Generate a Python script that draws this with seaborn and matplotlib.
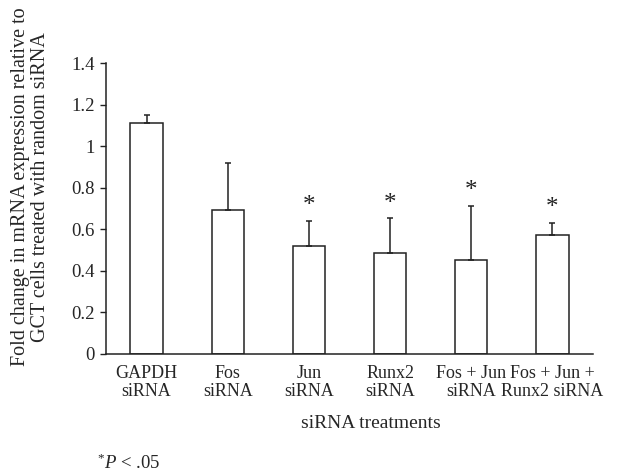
import matplotlib
matplotlib.use("Agg")
import matplotlib.pyplot as plt
import seaborn as sns
import pandas as pd
import numpy as np

categories = ["GAPDH\nsiRNA", "Fos\nsiRNA", "Jun\nsiRNA", "Runx2\nsiRNA",
              "Fos + Jun\nsiRNA", "Fos + Jun +\nRunx2 siRNA"]
values = [1.11, 0.695, 0.52, 0.487, 0.454, 0.571]
errors = [0.042, 0.225, 0.12, 0.167, 0.259, 0.06]
significant = [False, False, True, True, True, True]
yticks = [0, 0.2, 0.4, 0.6, 0.8, 1, 1.2, 1.4]
ytick_labels = ["0", "0.2", "0.4", "0.6", "0.8", "1", "1.2", "1.4"]

sns.set_style("white")
plt.rcParams["font.family"] = ["Liberation Serif", "DejaVu Serif"]
plt.rcParams["mathtext.fontset"] = "custom"
plt.rcParams["mathtext.it"] = "Liberation Serif:italic"
plt.rcParams["mathtext.rm"] = "Liberation Serif"

FS = 13
df = pd.DataFrame({"cat": categories, "val": values})

fig = plt.figure(figsize=(6.3, 4.75), dpi=100)
ax = fig.add_axes([106/630, 1 - 354/475, 487/630, 291/475])

sns.barplot(data=df, x="cat", y="val", ax=ax, color="white", edgecolor="#222222",
            linewidth=1.1, width=0.4, errorbar=None)
x = np.arange(len(categories))
ax.errorbar(x, values, yerr=[np.zeros(len(values)), errors], fmt="none",
            ecolor="#222222", elinewidth=1.1, capsize=2.5, capthick=1.1)
for xi, v, e, s in zip(x, values, errors, significant):
    if s:
        ax.text(xi, v + e + 0.07, "*", ha="center", va="center", fontsize=18, color="#222222")

ax.set_ylim(0, 1.4)
ax.set_xlim(-0.5, len(categories) - 0.5)
ax.set_yticks(yticks)
ax.set_yticklabels(ytick_labels, fontsize=13.5)
ax.set_xticks(np.arange(-0.5, len(categories), 1.0))
ax.set_xticklabels([])
ax.set_xticks(x, minor=True)
ax.set_xticklabels(categories, minor=True, fontsize=FS, linespacing=1.1)
ax.tick_params(axis="x", which="minor", length=0, pad=8)
ax.tick_params(axis="x", which="major", length=4, width=1, direction="out", color="#222222")
ax.tick_params(axis="y", length=4, width=1, direction="out", color="#222222", pad=4, left=True)
for sp in ["top", "right"]:
    ax.spines[sp].set_visible(False)
for sp in ["left", "bottom"]:
    ax.spines[sp].set_color("#222222")
    ax.spines[sp].set_linewidth(1.1)

ax.set_xlabel("siRNA treatments", fontsize=14)
ax.xaxis.set_label_coords(0.543, -0.21)
ax.set_ylabel("Fold change in mRNA expression relative to\nGCT cells treated with random siRNA",
              fontsize=14.5, linespacing=1.05)
ax.yaxis.set_label_coords(-0.115, 0.574)

fig.text(97/630, 1 - 463/475, r"$^{*}P$ < .05", fontsize=13.5, va="center", ha="left")

fig.savefig("out.png", dpi=100)
